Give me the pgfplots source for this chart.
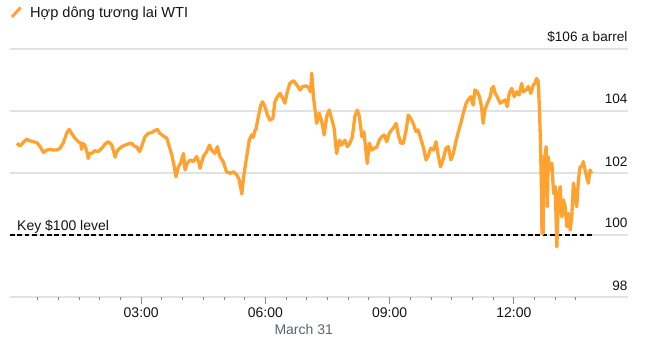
\documentclass[border=0pt]{standalone}
\usepackage{pgfplots}
\pgfplotsset{compat=1.18}
\usepackage{fontspec}
\setmainfont{Liberation Sans}
\definecolor{wti}{HTML}{FFA230}
\definecolor{gridc}{HTML}{E2E2E2}
\definecolor{tickc}{HTML}{8A8A8A}
\definecolor{mtickc}{HTML}{C4C4C4}
\definecolor{datec}{HTML}{5B6472}
\definecolor{txt}{HTML}{151515}
\begin{document}
\begin{tikzpicture}
\useasboundingbox (0,0) rectangle (661pt,-355pt);
\begin{axis}[
  at={(10pt,-296.7pt)}, anchor=south west,
  width=617.7pt, height=248pt, scale only axis,
  xmin=-0.169, xmax=14.751, ymin=98, ymax=106,
  clip=false,
  axis line style={draw=none},
  ytick={98,100,102,104,106},
  yticklabels={98,100,102,104,{\$106 a barrel}},
  yticklabel pos=right,
  ytick style={draw=none},
  ymajorgrids, grid style={line width=2pt, color=gridc},
  yticklabel style={anchor=base east, inner sep=0pt, xshift=-7pt, yshift=6.7pt, font=\fontsize{13.6}{15}\selectfont, text=txt},
  xtick={3,6,9,12},
  xticklabels={03:00,06:00,09:00,12:00},
  minor xtick={0.5,1,1.5,2,2.5,3.5,4,4.5,5,5.5,6.5,7,7.5,8,8.5,9.5,10,10.5,11,11.5,12.5,13,13.5},
  xtick pos=bottom,
  tick align=outside,
  major tick length=7pt, minor tick length=3.5pt,
  xtick style={color=tickc, line width=0.9pt},
  every minor tick/.append style={color=mtickc, line width=0.9pt},
  xticklabel style={anchor=base, inner sep=0pt, yshift=-13.6pt, font=\fontsize{14}{16}\selectfont, text=txt},
]
\addplot[black, line width=2.2pt, dash pattern=on 4.6pt off 2.8pt] coordinates {(-0.169,100) (13.9,100)};
\addplot[wti, line width=3.3pt, line join=round] coordinates {
(0.00,102.95) (0.07,102.86) (0.15,102.97) (0.23,103.08) (0.31,103.03) (0.39,103.00) (0.48,102.97) (0.56,102.84)
(0.64,102.65) (0.72,102.73) (0.80,102.75) (0.88,102.73) (0.96,102.73) (1.04,102.79) (1.12,102.97) (1.20,103.27)
(1.26,103.40) (1.32,103.27) (1.40,103.11) (1.48,103.00) (1.54,102.95) (1.56,102.75) (1.58,102.95) (1.64,102.89)
(1.70,102.62) (1.72,102.46) (1.75,102.62) (1.80,102.62) (1.88,102.71) (1.96,102.68) (2.05,102.79) (2.13,102.93)
(2.21,103.00) (2.29,102.89) (2.35,102.62) (2.37,102.50) (2.40,102.65) (2.45,102.75) (2.53,102.84) (2.61,102.89)
(2.69,102.93) (2.77,102.95) (2.85,102.84) (2.89,102.84) (2.96,102.68) (3.01,102.84) (3.09,103.16) (3.17,103.27)
(3.25,103.29) (3.33,103.36) (3.39,103.40) (3.45,103.27) (3.54,103.18) (3.62,103.11) (3.68,102.84) (3.74,102.57)
(3.79,102.25) (3.84,101.87) (3.90,102.19) (3.95,102.30) (4.02,102.62) (4.06,102.09) (4.11,102.30) (4.18,102.41)
(4.26,102.36) (4.34,102.52) (4.40,102.30) (4.42,102.14) (4.50,102.52) (4.58,102.68) (4.65,102.89) (4.70,102.73)
(4.78,102.62) (4.84,102.84) (4.90,102.52) (4.98,102.36) (5.06,102.03) (5.15,101.98) (5.23,102.03) (5.31,101.93)
(5.37,101.76) (5.43,101.31) (5.47,101.82) (5.51,102.19) (5.56,102.62) (5.61,103.05) (5.67,103.22) (5.71,103.14)
(5.75,103.38) (5.77,103.38) (5.83,103.81) (5.89,104.18) (5.93,104.29) (5.99,104.13) (6.05,103.86) (6.11,103.70)
(6.18,103.75) (6.23,104.29) (6.29,104.45) (6.35,104.56) (6.42,104.40) (6.47,104.24) (6.53,104.61) (6.59,104.88)
(6.68,104.97) (6.76,104.83) (6.84,104.67) (6.90,104.78) (6.98,104.80) (7.04,104.75) (7.09,104.61) (7.12,105.21)
(7.16,104.45) (7.20,104.02) (7.24,103.59) (7.30,103.92) (7.36,103.65) (7.42,103.22) (7.48,103.81) (7.54,104.02)
(7.60,103.75) (7.66,103.43) (7.72,102.62) (7.79,103.05) (7.84,102.89) (7.92,103.05) (7.98,102.84) (8.04,102.95)
(8.10,103.16) (8.16,103.81) (8.22,104.02) (8.27,103.81) (8.33,103.16) (8.38,103.32) (8.43,102.68) (8.46,102.30)
(8.51,102.95) (8.57,102.73) (8.62,102.79) (8.69,102.82) (8.75,103.05) (8.81,103.16) (8.87,103.22) (8.93,103.00)
(8.99,103.27) (9.05,103.38) (9.11,103.48) (9.16,103.59) (9.21,103.22) (9.27,102.95) (9.33,102.95) (9.40,103.38)
(9.45,103.86) (9.51,103.75) (9.57,103.59) (9.64,103.32) (9.69,103.38) (9.75,103.11) (9.82,102.79) (9.88,102.41)
(9.94,102.57) (9.99,102.79) (10.06,102.73) (10.12,103.00) (10.18,102.52) (10.23,102.19) (10.30,102.46) (10.36,102.79)
(10.42,102.84) (10.48,102.41) (10.54,102.62) (10.60,103.00) (10.66,103.32) (10.72,103.59) (10.78,103.92) (10.85,104.24)
(10.90,104.35) (10.96,104.45) (11.02,104.18) (11.06,104.67) (11.12,104.61) (11.17,104.45) (11.22,104.13) (11.26,103.59)
(11.30,104.02) (11.36,104.24) (11.43,104.45) (11.47,104.72) (11.51,104.78) (11.55,104.56) (11.60,104.45) (11.67,104.24)
(11.73,104.29) (11.79,104.35) (11.84,104.13) (11.89,104.56) (11.95,104.72) (12.01,104.45) (12.07,104.61) (12.13,104.51)
(12.19,104.88) (12.23,104.61) (12.30,104.67) (12.35,104.78) (12.41,104.56) (12.47,104.83) (12.51,104.88) (12.55,105.04)
(12.59,104.94) (12.62,104.02) (12.64,103.16) (12.67,101.33) (12.68,100.04) (12.71,100.04) (12.72,102.52) (12.75,102.41)
(12.78,102.84) (12.81,100.90) (12.83,102.52) (12.87,102.09) (12.92,102.30) (12.96,101.33) (13.00,101.55) (13.04,99.61)
(13.08,101.33) (13.12,101.55) (13.16,100.58) (13.20,101.12) (13.24,100.90) (13.28,100.26) (13.32,100.69) (13.36,100.15)
(13.40,100.58) (13.44,101.66) (13.48,101.33) (13.52,100.90) (13.56,101.76) (13.60,102.19) (13.64,102.19) (13.68,102.36)
(13.72,102.09) (13.76,101.87) (13.80,101.66) (13.84,102.09) (13.88,101.98)
};
\node[anchor=base west, inner sep=0pt, font=\fontsize{14}{16}\selectfont, text=txt] at (axis cs:0,100) [yshift=4.7pt] {Key \$100 level};
\node[anchor=base, inner sep=0pt, font=\fontsize{14}{16}\selectfont, text=datec] at (axis cs:6.925,98) [yshift=-37.6pt] {March 31};
\end{axis}
\draw[wti, line width=3pt] (12pt,-17pt) -- (20.5pt,-7.5pt);
\node[anchor=base west, inner sep=0pt, font=\fontsize{14.6}{17}\selectfont, text=txt] at (30pt,-17.3pt) {Hợp dông tương lai WTI};
\end{tikzpicture}
\end{document}
